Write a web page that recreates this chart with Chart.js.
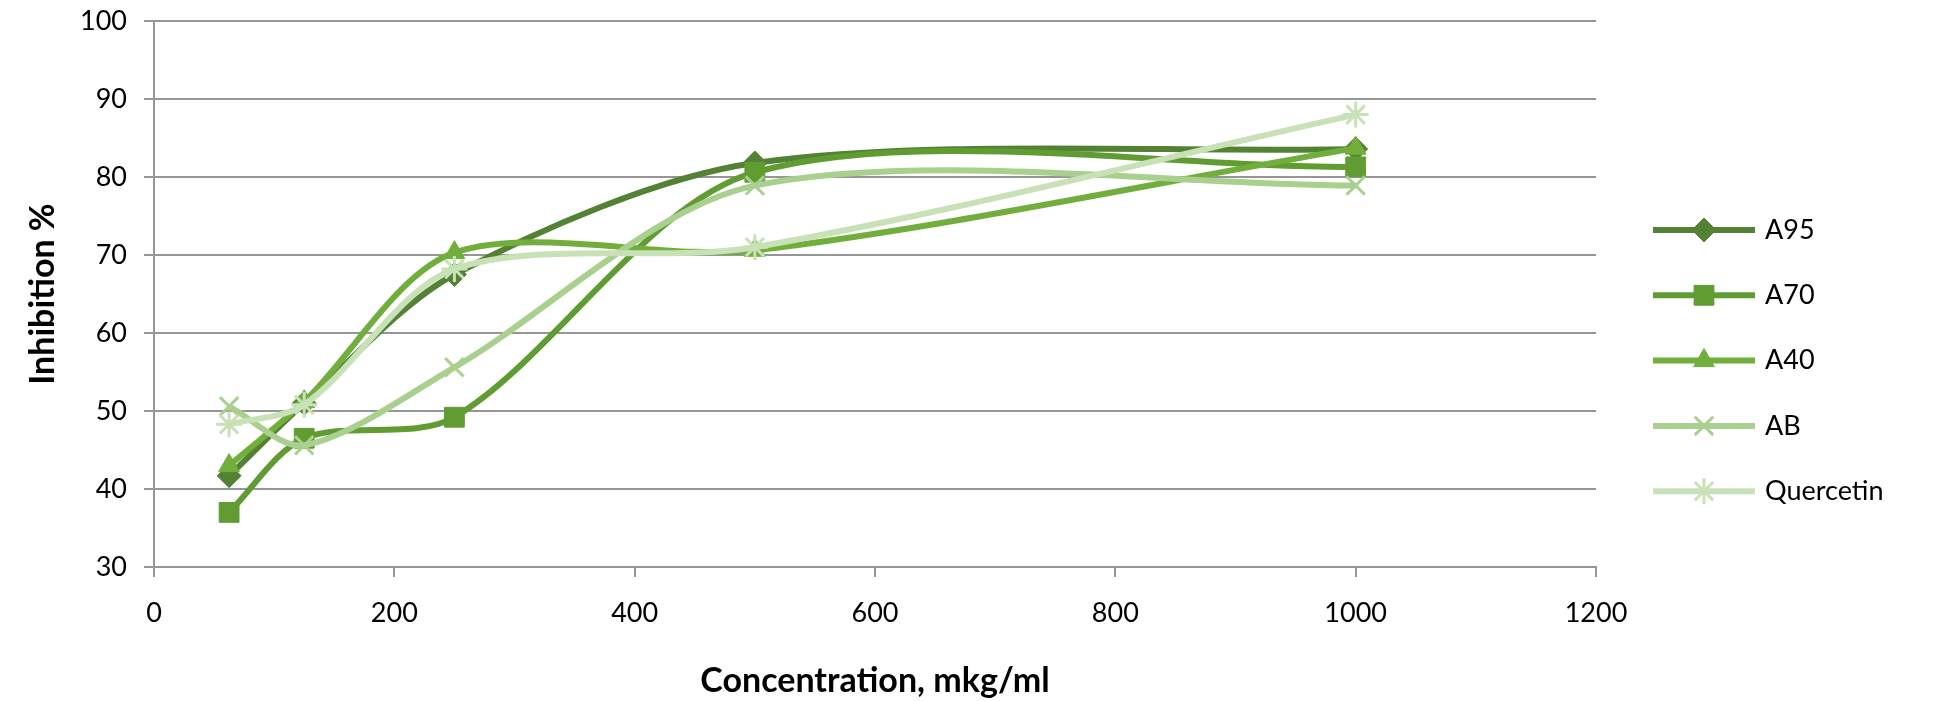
<!DOCTYPE html>
<html>
<head>
<meta charset="utf-8">
<script src="https://cdn.jsdelivr.net/npm/chart.js@4.4.1/dist/chart.umd.min.js"></script>
<style>
  html, body { margin: 0; padding: 0; background: #fff; }
  #wrap { width: 1949px; height: 701px; position: relative; }
</style>
</head>
<body>
<div id="wrap"><canvas id="inhibitionChart"></canvas></div>
<script>
// Concentrations (mkg/ml) and inhibition % per extract
var concentrations = [62.5, 125, 250, 500, 1000];
var seriesNames = ['A95', 'A70', 'A40', 'AB', 'Quercetin'];
var a95 = [41.7, 51.0, 67.5, 81.8, 83.6];
var a70 = [37.0, 46.5, 49.2, 80.6, 81.3];
var a40 = [43.0, 51.2, 70.3, 70.6, 83.7];
var ab = [50.6, 45.6, 55.6, 78.9, 78.9];
var quercetin = [48.3, 50.8, 68.2, 71.0, 88.0];
var xTicks = [0, 200, 400, 600, 800, 1000, 1200];
var yTicks = [30, 40, 50, 60, 70, 80, 90, 100];

var colors = {
  a95: '#548235',
  a70: '#619c33',
  a40: '#72ae3c',
  ab: '#a9d08e',
  quercetin: '#c8e1b7',
  grid: '#969696'
};

var fontFamily = 'Lato, "Open Sans", sans-serif';

function toPoints(values) {
  return concentrations.map(function (c, i) {
    return { x: c, y: values[i] };
  });
}

function makeSeries(label, values, color, style, radius, order, borderW) {
  return {
    label: label,
    data: toPoints(values),
    borderColor: color,
    backgroundColor: color,
    borderWidth: 6,
    tension: 0.3,
    pointStyle: style,
    pointRadius: radius,
    pointHoverRadius: radius,
    pointBackgroundColor: color,
    pointBorderColor: color,
    pointBorderWidth: borderW,
    order: order
  };
}

// Legend drawn at the right like the original (line + marker + name)
var sideLegend = {
  id: 'sideLegend',
  afterDraw: function (chart) {
    var ctx = chart.ctx;
    chart.data.datasets.forEach(function (ds, i) {
      var y = 230 + i * 65.3;
      ctx.save();
      ctx.strokeStyle = ds.borderColor;
      ctx.lineWidth = ds.borderWidth;
      ctx.beginPath();
      ctx.moveTo(1653, y);
      ctx.lineTo(1755, y);
      ctx.stroke();
      ctx.fillStyle = ds.pointBackgroundColor;
      ctx.strokeStyle = ds.pointBorderColor;
      ctx.lineWidth = ds.pointBorderWidth;
      Chart.helpers.drawPoint(ctx, {
        pointStyle: ds.pointStyle,
        radius: ds.pointRadius,
        rotation: 0,
        borderWidth: ds.pointBorderWidth
      }, 1704, y);
      ctx.fillStyle = '#000';
      ctx.font = '27px ' + fontFamily;
      ctx.textBaseline = 'middle';
      ctx.textAlign = 'left';
      ctx.fillText(ds.label, 1765, y);
      ctx.restore();
    });
  }
};

var ctx = document.getElementById('inhibitionChart').getContext('2d');
var inhibitionChart = new Chart(ctx, {
  type: 'line',
  data: {
    datasets: [
      makeSeries(seriesNames[0], a95, colors.a95, 'rectRot', 12, 5, 1),
      makeSeries(seriesNames[1], a70, colors.a70, 'rect', 14, 4, 1),
      makeSeries(seriesNames[2], a40, colors.a40, 'triangle', 12, 3, 1),
      makeSeries(seriesNames[3], ab, colors.ab, 'crossRot', 13, 2, 3),
      makeSeries(seriesNames[4], quercetin, colors.quercetin, 'star', 13, 1, 3)
    ]
  },
  options: {
    responsive: true,
    maintainAspectRatio: false,
    animation: false,
    devicePixelRatio: 1,
    layout: {
      padding: { left: 0, top: 21, right: 353, bottom: 0 }
    },
    plugins: {
      legend: { display: false },
      tooltip: { enabled: false }
    },
    scales: {
      x: {
        type: 'linear',
        min: 0,
        max: 1200,
        afterBuildTicks: function (scale) {
          scale.ticks = xTicks.map(function (v) { return { value: v }; });
        },
        afterFit: function (scale) {
          scale.height = 134;
          scale.paddingLeft = 0;
          scale.paddingRight = 0;
        },
        grid: {
          drawOnChartArea: false,
          drawTicks: true,
          tickLength: 10,
          color: colors.grid,
          lineWidth: 2
        },
        border: { color: colors.grid, width: 2 },
        ticks: {
          color: '#000',
          padding: 20,
          maxRotation: 0,
          font: { family: fontFamily, size: 27 },
          callback: function (v) { return String(v); }
        },
        title: {
          display: true,
          text: 'Concentration, mkg/ml',
          color: '#000',
          padding: { top: 0, bottom: 0 },
          font: { family: fontFamily, size: 34, weight: 'bold' }
        }
      },
      y: {
        min: 30,
        max: 100,
        afterBuildTicks: function (scale) {
          scale.ticks = yTicks.map(function (v) { return { value: v }; });
        },
        afterFit: function (scale) {
          scale.width = 154;
          scale.paddingTop = 0;
          scale.paddingBottom = 0;
        },
        grid: {
          drawTicks: true,
          tickLength: 10,
          color: colors.grid,
          lineWidth: 2
        },
        border: { color: colors.grid, width: 2 },
        ticks: {
          color: '#000',
          padding: 17,
          font: { family: fontFamily, size: 27 }
        },
        title: {
          display: true,
          text: 'Inhibition %',
          color: '#000',
          padding: { top: 23, bottom: 0 },
          font: { family: fontFamily, size: 34, weight: 'bold' }
        }
      }
    }
  },
  plugins: [sideLegend]
});
</script>
</body>
</html>
